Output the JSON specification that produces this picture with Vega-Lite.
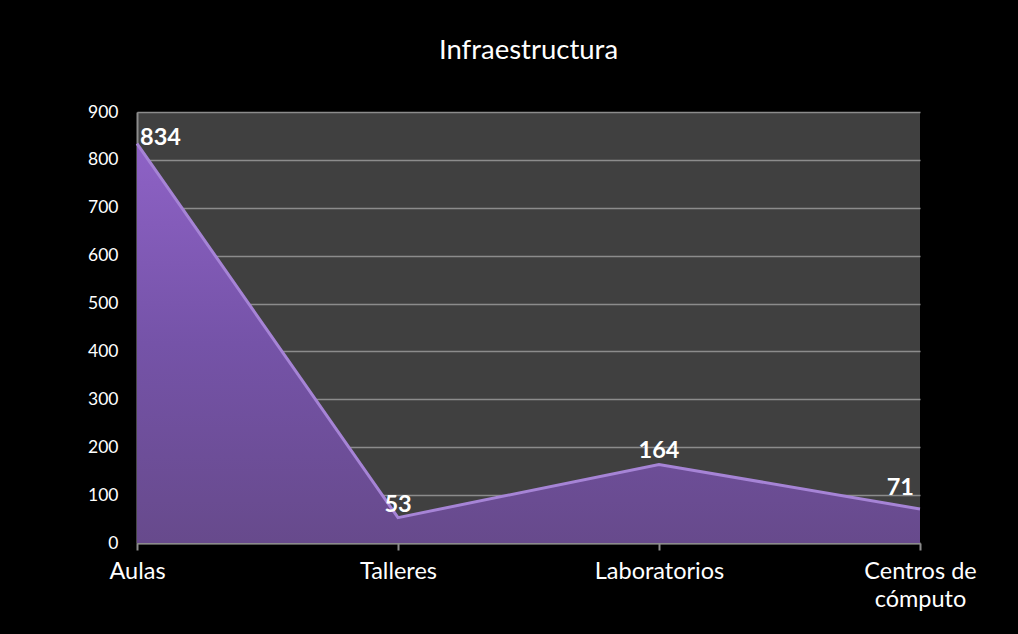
{
  "$schema": "https://vega.github.io/schema/vega-lite/v6.json",
  "width": 783,
  "height": 431,
  "autosize": {"type": "none"},
  "padding": {"left": 137, "top": 112, "right": 98, "bottom": 91},
  "background": "black",
  "title": {"text": "Infraestructura", "color": "white", "fontSize": 27.5, "font": "Lato", "fontWeight": "normal", "anchor": "middle", "offset": 39},
  "data": {"values": [
    {"categoria": "Aulas", "valor": 834, "pos": "first"},
    {"categoria": "Talleres", "valor": 53, "pos": "mid"},
    {"categoria": "Laboratorios", "valor": 164, "pos": "mid"},
    {"categoria": "Centros de cómputo", "valor": 71, "pos": "last"}
  ]},
  "encoding": {
    "x": {"field": "categoria", "type": "ordinal", "sort": null,
      "scale": {"type": "point", "padding": 0},
      "axis": {"title": null, "labelAngle": 0, "labelColor": "white", "labelFontSize": 23.5, "labelFont": "Lato",
        "domainColor": "#8c8c8c", "domainWidth": 2, "tickColor": "#8c8c8c", "tickSize": 7, "tickWidth": 2,
        "labelPadding": 9, "grid": false, "labelOverlap": false, "labelLineHeight": 28, "labelBaseline": "top",
        "labelExpr": "datum.value == 'Centros de cómputo' ? ['Centros de', 'cómputo'] : datum.value"}},
    "y": {"field": "valor", "type": "quantitative", "scale": {"domain": [0, 900], "nice": false},
      "axis": {"title": null, "values": [0, 100, 200, 300, 400, 500, 600, 700, 800, 900], "grid": true,
        "gridColor": "#8c8c8c", "gridWidth": 1.5, "domainColor": "#8c8c8c", "domainWidth": 2, "ticks": false,
        "labelPadding": 19, "labelFontSize": 17.5, "labelFont": "Lato", "labelColor": "white"}}
  },
  "layer": [
    {"mark": {"type": "area", "color": {"gradient": "linear", "x1": 0, "y1": 0, "x2": 0, "y2": 1,
      "stops": [{"offset": 0, "color": "#8e62c6"}, {"offset": 0.5, "color": "#7553a8"}, {"offset": 1, "color": "#674a8c"}]}, "opacity": 1}},
    {"mark": {"type": "line", "color": "#a684d6", "strokeWidth": 3}},
    {"transform": [{"filter": "datum.pos == 'mid'"}],
      "mark": {"type": "text", "color": "white", "font": "Lato", "fontWeight": "bold", "fontSize": 23.5, "align": "center", "baseline": "alphabetic", "dy": -6},
      "encoding": {"text": {"field": "valor", "type": "quantitative"}}},
    {"transform": [{"filter": "datum.pos == 'first'"}],
      "mark": {"type": "text", "color": "white", "font": "Lato", "fontWeight": "bold", "fontSize": 23.5, "align": "left", "baseline": "alphabetic", "dx": 3, "dy": 1},
      "encoding": {"text": {"field": "valor", "type": "quantitative"}}},
    {"transform": [{"filter": "datum.pos == 'last'"}],
      "mark": {"type": "text", "color": "white", "font": "Lato", "fontWeight": "bold", "fontSize": 23.5, "align": "right", "baseline": "alphabetic", "dx": -6, "dy": -14},
      "encoding": {"text": {"field": "valor", "type": "quantitative"}}}
  ],
  "config": {"view": {"fill": "#404040", "stroke": null}}
}
